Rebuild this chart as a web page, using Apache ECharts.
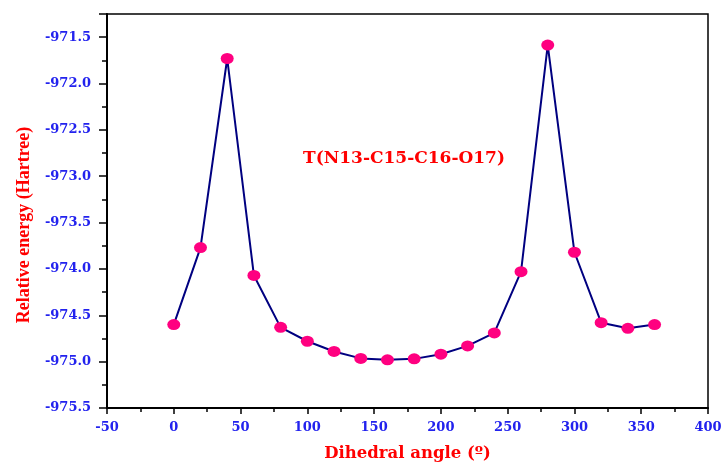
<!DOCTYPE html>
<html>
<head>
<meta charset="utf-8">
<script src="https://cdn.jsdelivr.net/npm/echarts@6/dist/echarts.min.js"></script>
<style>
  html, body { margin: 0; padding: 0; background: #fff; }
  #main { width: 722px; height: 465px; }
</style>
</head>
<body>
<div id="main"></div>
<script>
// dihedral scan data
var angles = [0, 20, 40, 60, 80, 100, 120, 140, 160, 180, 200, 220, 240, 260, 280, 300, 320, 340, 360];
var energies = [-974.60, -973.77, -971.73, -974.07, -974.63, -974.78, -974.89, -974.965, -974.98, -974.97,
                -974.92, -974.83, -974.69, -974.03, -971.585, -973.82, -974.58, -974.64, -974.60];
var xLabel = 'Dihedral angle (º)';
var yLabel = 'Relative energy (Hartree)';
var note = 'T(N13-C15-C16-O17)';

var font = 'DejaVu Serif';
var blue = '#2222ee';

var chart = echarts.init(document.getElementById('main'));

var points = angles.map(function (a, i) { return [a, energies[i]]; });

var option = {
    backgroundColor: '#fff',
    animation: false,
    grid: {
        left: 107, right: 14, top: 14, bottom: 57,
        outerBoundsMode: 'none',
        containLabel: false,
        show: true,
        borderColor: '#000',
        borderWidth: 1.5
    },
    title: {
        text: note,
        left: 298,
        top: 145,
        textStyle: { color: '#ff0000', fontFamily: font, fontWeight: 'bold', fontSize: 17 }
    },
    xAxis: {
        type: 'value',
        min: -50, max: 400, interval: 50,
        name: xLabel,
        nameLocation: 'middle',
        nameGap: 37,
        nameTextStyle: { color: '#ff0000', fontFamily: font, fontWeight: 'bold', fontSize: 16.5 },
        axisLine: { onZero: false, lineStyle: { color: '#000', width: 2 } },
        axisTick: { inside: false, length: 6, lineStyle: { color: '#000', width: 1.5 } },
        minorTick: { show: true, splitNumber: 2, length: 4, lineStyle: { color: '#000', width: 1.5 } },
        axisLabel: { color: blue, fontFamily: font, fontWeight: 'bold', fontSize: 13, margin: 13 },
        splitLine: { show: false }
    },
    yAxis: {
        type: 'value',
        min: -975.5, max: -971.25, interval: 0.5,
        name: yLabel,
        nameLocation: 'middle',
        nameGap: 74,
        nameTextStyle: {
            color: '#ff0000', fontFamily: 'Liberation Serif', fontWeight: 'bold', fontSize: 18,
            padding: [0, 28, 0, 0]
        },
        axisLine: { onZero: false, lineStyle: { color: '#000', width: 2 } },
        axisTick: { inside: false, length: 8, lineStyle: { color: '#000', width: 1.5 } },
        minorTick: { show: true, splitNumber: 2, length: 5, lineStyle: { color: '#000', width: 1.5 } },
        axisLabel: {
            color: blue, fontFamily: font, fontWeight: 'bold', fontSize: 13, margin: 16,
            showMaxLabel: false,
            formatter: function (v) { return v.toFixed(1); }
        },
        splitLine: { show: false }
    },
    series: [{
        type: 'line',
        data: points,
        symbol: 'circle',
        symbolSize: [13, 11],
        lineStyle: { color: '#000080', width: 2 },
        itemStyle: { color: '#ff0080' },
        z: 3
    }]
};

chart.setOption(option);
</script>
</body>
</html>
